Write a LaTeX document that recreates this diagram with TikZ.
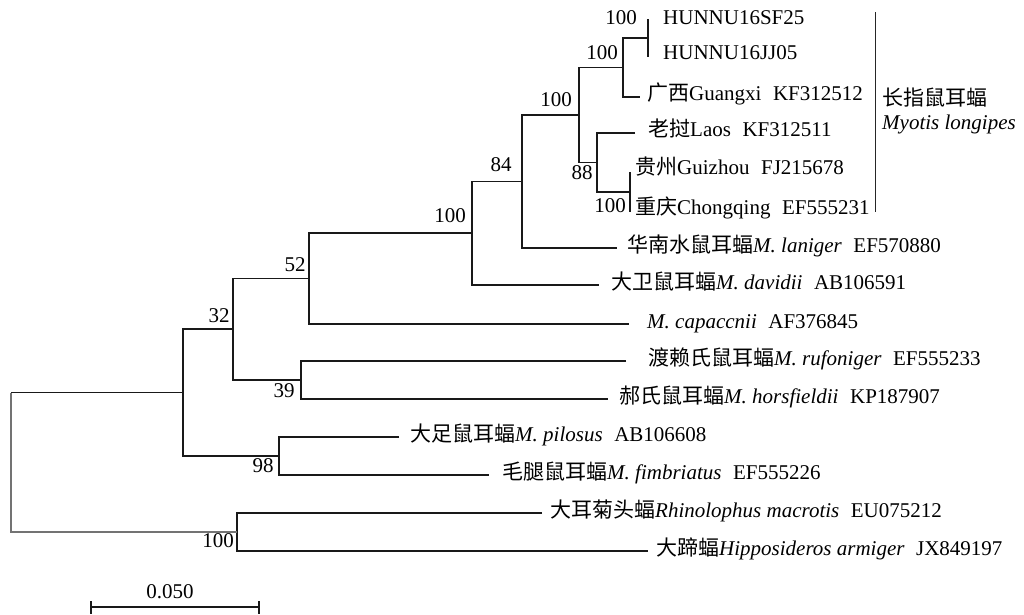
\documentclass[tikz,border=0pt]{standalone}
\usepackage{fontspec}
\setmainfont{Liberation Serif}
\newfontfamily\cjkf{Noto Sans CJK SC}
\newcommand\zh[1]{{\cjkf #1}}
\newcommand\accgap{\hspace{0.55em}}
\begin{document}
\begin{tikzpicture}[x=1pt,y=-1pt,
  br/.style={line width=1.3pt, draw=black!90},
  rootbr/.style={line width=1.1pt, draw=black!55},
  lab/.style={anchor=west, inner sep=0pt, text height=0.66em, text depth=0pt,
              font=\fontsize{21}{25}\selectfont},
  bs/.style={inner sep=0pt, text height=0.66em, text depth=0pt,
             font=\fontsize{21}{25}\selectfont},
]
\useasboundingbox (0,0) rectangle (1024,614);

% tips
\coordinate (t1) at (648,19);
\coordinate (t2) at (648,57);
\coordinate (t3) at (640,97);
\coordinate (t4) at (635,133);
\coordinate (t5) at (630,172);
\coordinate (t6) at (630,212);
\coordinate (t7) at (617,248);
\coordinate (t8) at (599,285);
\coordinate (t9) at (629,324);
\coordinate (t10) at (626,361);
\coordinate (t11) at (608,399);
\coordinate (t12) at (399,437);
\coordinate (t13) at (489,475);
\coordinate (t14) at (542,513);
\coordinate (t15) at (648,551);
% internal nodes
\coordinate (nA) at (648,38);
\coordinate (nB) at (623,67.5);
\coordinate (nP) at (630,192);
\coordinate (nC) at (597,162.5);
\coordinate (nD) at (579,115);
\coordinate (nE) at (522,181.5);
\coordinate (nF) at (472,233);
\coordinate (nG) at (309,278.5);
\coordinate (nH) at (301,380);
\coordinate (nI) at (233,329);
\coordinate (nJ) at (279,456);
\coordinate (nK) at (183,392.5);
\coordinate (nL) at (237,532);
\coordinate (rtop) at (11,392.5);
\coordinate (rbot) at (11,532);

% branches
\draw[br] (t1) -| (nA) |- (t2);
\draw[br] (nA) -| (nB) |- (t3);
\draw[br] (t5) -| (nP) |- (t6);
\draw[br] (t4) -| (nC) |- (nP);
\draw[br] (nB) -| (nD) |- (nC);
\draw[br] (nD) -| (nE) |- (t7);
\draw[br] (nE) -| (nF) |- (t8);
\draw[br] (nF) -| (nG) |- (t9);
\draw[br] (t10) -| (nH) |- (t11);
\draw[br] (nG) -| (nI) |- (nH);
\draw[br] (t12) -| (nJ) |- (t13);
\draw[br] (nI) -| (nK) |- (nJ);
\draw[br] (t14) -| (nL) |- (t15);
\draw[br] (nK) -- (rtop);
\draw[rootbr] (rtop) -- (rbot) -- (nL);

% tip labels
\node[lab] (l1) at (663,21) {HUNNU16SF25};
\node[lab] (l2) at (663,56) {HUNNU16JJ05};
\node[lab] (l3) at (647,97) {\zh{广西}Guangxi\accgap KF312512};
\node[lab] (l4) at (648,133) {\zh{老挝}Laos\accgap KF312511};
\node[lab] (l5) at (635,171) {\zh{贵州}Guizhou\accgap FJ215678};
\node[lab] (l6) at (635,211) {\zh{重庆}Chongqing\accgap EF555231};
\node[lab] (l7) at (627,249) {\zh{华南水鼠耳蝠}\textit{M. laniger}\accgap EF570880};
\node[lab] (l8) at (611,286) {\zh{大卫鼠耳蝠}\textit{M. davidii}\accgap AB106591};
\node[lab] (l9) at (647,325) {\textit{M. capaccnii}\accgap AF376845};
\node[lab] (l10) at (648,362) {\zh{渡赖氏鼠耳蝠}\textit{M. rufoniger}\accgap EF555233};
\node[lab] (l11) at (619,400) {\zh{郝氏鼠耳蝠}\textit{M. horsfieldii}\accgap KP187907};
\node[lab] (l12) at (410,438) {\zh{大足鼠耳蝠}\textit{M. pilosus}\accgap AB106608};
\node[lab] (l13) at (502,476) {\zh{毛腿鼠耳蝠}\textit{M. fimbriatus}\accgap EF555226};
\node[lab] (l14) at (550,514) {\zh{大耳菊头蝠}\textit{Rhinolophus macrotis}\accgap EU075212};
\node[lab] (l15) at (656,552) {\zh{大蹄蝠}\textit{Hipposideros armiger}\accgap JX849197};

% bootstrap values
\node[bs] (bA) at (621,21) {100};
\node[bs] (bB) at (602,56) {100};
\node[bs] (bD) at (556,103) {100};
\node[bs] (bC) at (582,176) {88};
\node[bs] (bP) at (610,209) {100};
\node[bs] (bE) at (501,168) {84};
\node[bs] (bF) at (450,219) {100};
\node[bs] (bG) at (295,268) {52};
\node[bs] (bI) at (219,319) {32};
\node[bs] (bH) at (284,394) {39};
\node[bs] (bJ) at (263,469) {98};
\node[bs] (bL) at (218,544) {100};

% clade bracket
\coordinate (cbT) at (875,12);
\coordinate (cbB) at (875,212);
\draw[line width=1pt, draw=black!85] (cbT) -- (cbB);
\node[lab] (cz) at (882,102) {\zh{长指鼠耳蝠}};
\node[lab] (cl) at (882,126) {\textit{Myotis longipes}};

% scale bar
\coordinate (sbL) at (91,607);
\coordinate (sbR) at (259,607);
\coordinate (sbLt) at (91,601);
\coordinate (sbLb) at (91,614);
\coordinate (sbRt) at (259,601);
\coordinate (sbRb) at (259,614);
\draw[br] (sbL) -- (sbR);
\draw[br] (sbLt) -- (sbLb);
\draw[br] (sbRt) -- (sbRb);
\node[bs] (sbt) at (170,595) {0.050};
\end{tikzpicture}
\end{document}
